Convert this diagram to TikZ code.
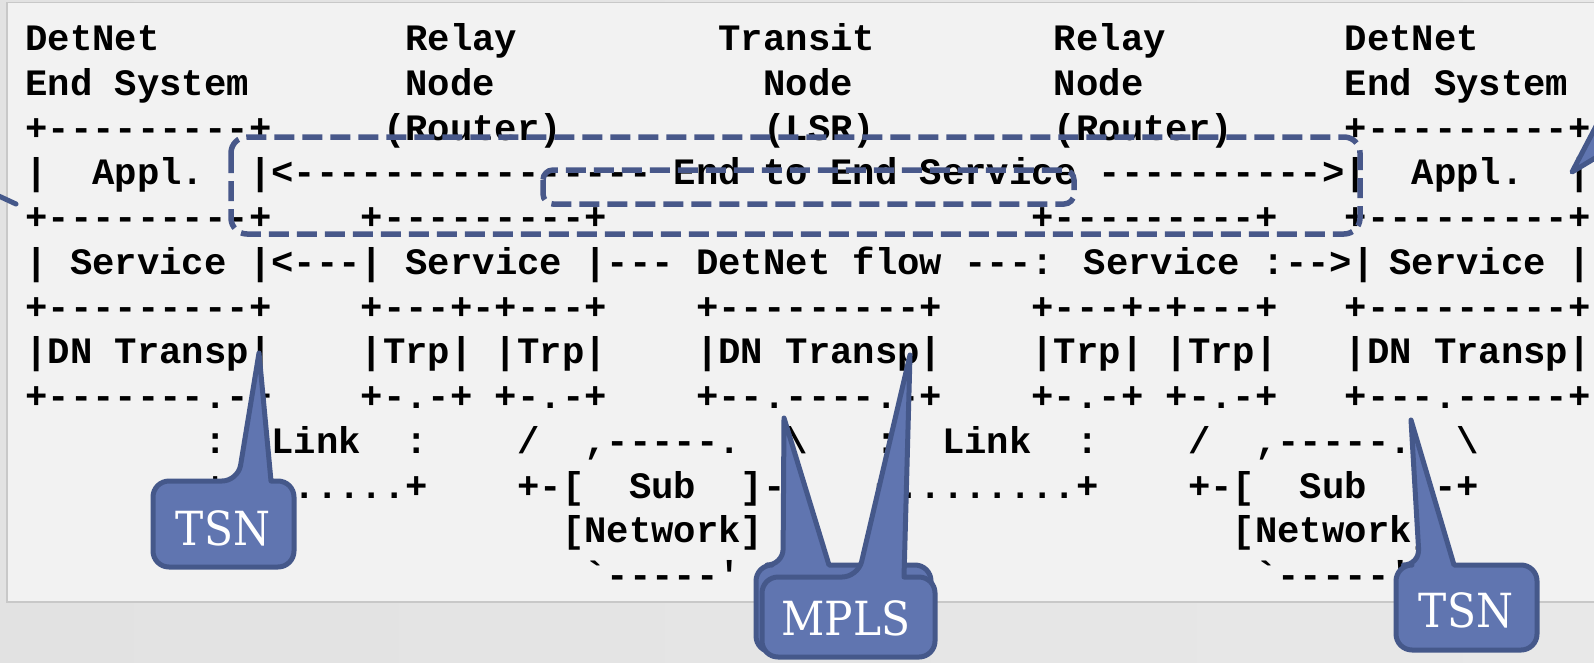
\documentclass[tikz,border=0pt]{standalone}
\usepackage{fontspec}
\newfontfamily\asciifont{Liberation Mono}
\newfontfamily\callfont{DejaVu Serif Condensed}
\definecolor{cfill}{RGB}{96,117,176}
\definecolor{cline}{RGB}{69,88,138}
\definecolor{dcol}{RGB}{72,88,138}
\definecolor{panelbg}{RGB}{242,242,242}
\definecolor{pborder}{RGB}{200,200,200}
\newcommand\tx[3]{\node[txt] (t#2x#1) at ({25.4+22.36*#1},{50.5+44.75*(#2-1)}) {#3};}
\begin{document}
\begin{tikzpicture}[x=1pt,y=-1pt,
  txt/.style={anchor=base west, inner sep=0pt, outer sep=0pt, text=black,
    font=\asciifont\bfseries\fontsize{37.27}{44.75}\selectfont},
  dashbox/.style={draw=dcol, line width=5.5pt, dash pattern=on 20pt off 8pt},
  callout/.style={fill=cfill, draw=cline, line width=5pt, line join=round},
  ctext/.style={anchor=base, inner sep=0pt, text=white,
    font=\callfont\fontsize{47}{50}\selectfont}]
\useasboundingbox (0,0) rectangle (1594,662);
% background
\shade[left color={rgb,255:red,226;green,226;blue,226}, middle color={rgb,255:red,249;green,249;blue,249}, right color={rgb,255:red,232;green,232;blue,232}] (0,0) rectangle (1594,662);
\draw[fill=panelbg, draw=pborder, line width=1.5pt] (7,2.5) rectangle (1620,602);
% ASCII art
\tx{0}{1}{DetNet} \tx{17}{1}{Relay} \tx{31}{1}{Transit} \tx{46}{1}{Relay} \tx{59}{1}{DetNet}
\tx{0}{2}{End System} \tx{17}{2}{Node} \tx{33}{2}{Node} \tx{46}{2}{Node} \tx{59}{2}{End System}
\tx{0}{3}{+---------+} \tx{16}{3}{(Router)} \tx{33}{3}{(LSR)} \tx{46}{3}{(Router)} \tx{59}{3}{+---------+}
\tx{0}{4}{|} \tx{3}{4}{Appl.} \tx{10}{4}{|<----------------} \tx{29}{4}{End to End Service} \tx{48}{4}{---------->|} \tx{62}{4}{Appl.} \tx{69}{4}{|}
\tx{0}{5}{+---------+} \tx{15}{5}{+---------+} \tx{45}{5}{+---------+} \tx{59}{5}{+---------+}
\tx{0}{6}{| Service |<---| Service |---} \tx{30}{6}{DetNet flow} \tx{42}{6}{---: Service :-->|} \tx{61}{6}{Service} \tx{69}{6}{|}
\tx{0}{7}{+---------+} \tx{15}{7}{+---+-+---+} \tx{30}{7}{+---------+} \tx{45}{7}{+---+-+---+} \tx{59}{7}{+---------+}
\tx{0}{8}{|DN Transp|} \tx{15}{8}{|Trp| |Trp|} \tx{30}{8}{|DN Transp|} \tx{45}{8}{|Trp| |Trp|} \tx{59}{8}{|DN Transp|}
\tx{0}{9}{+-------.-+} \tx{15}{9}{+-.-+ +-.-+} \tx{30}{9}{+--.----.-+} \tx{45}{9}{+-.-+ +-.-+} \tx{59}{9}{+---.-----+}
\tx{8}{10}{:} \tx{11}{10}{Link} \tx{17}{10}{:} \tx{22}{10}{/} \tx{25}{10}{,-----.} \tx{34}{10}{\textbackslash} \tx{38}{10}{:} \tx{41}{10}{Link} \tx{47}{10}{:} \tx{52}{10}{/} \tx{55}{10}{,-----.} \tx{64}{10}{\textbackslash}
\tx{8}{11}{+........+} \tx{22}{11}{+-[} \tx{27}{11}{Sub} \tx{32}{11}{]-+} \tx{38}{11}{+........+} \tx{52}{11}{+-[} \tx{57}{11}{Sub} \tx{62}{11}{]-+}
\tx{24}{12}{[Network]} \tx{54}{12}{[Network]}
\tx{25}{13}{`-----'} \tx{55}{13}{`-----'}
% dashed service boxes
\draw[dashbox, rounded corners=16pt] (231,137) rectangle (1360,234);
\draw[dashbox, rounded corners=10pt] (543,170) rectangle (1074,204);
% edge callout pieces
\draw[cline, line width=5pt, line cap=round] (-12,191) -- (16,204);
\draw[callout] (1615,90) -- (1572,172) -- (1615,146) -- cycle;
% left TSN callout
\draw[callout] (153,524) [rounded corners=16pt] -- (153,481) -- (238,481) [sharp corners] -- (259,353) -- (271,481) [rounded corners=16pt] -- (294,481) -- (294,567) -- (153,567) -- cycle;
\node[ctext] (tsnA) at (223,545) {TSN};
% MPLS callouts
\draw[callout] (756,610) [rounded corners=16pt] -- (756,565) -- (783,565) [sharp corners] -- (784,418) -- (829,565) [rounded corners=16pt] -- (931,565) -- (931,652) -- (756,652) -- cycle;
\draw[callout] (762,620) [rounded corners=16pt] -- (762,577) -- (858,577) [sharp corners] -- (910,355) -- (904,577) [rounded corners=16pt] -- (935,577) -- (935,657) -- (762,657) -- cycle;
\node[ctext] (mpls) at (846,635) {MPLS};
% right TSN callout
\draw[callout] (1396,610) [rounded corners=16pt] -- (1396,565) -- (1419.5,565) [sharp corners] -- (1411,420) -- (1454,565) [rounded corners=16pt] -- (1537,565) -- (1537,650) -- (1396,650) -- cycle;
\node[ctext] (tsnB) at (1466,627) {TSN};
\end{tikzpicture}
\end{document}
